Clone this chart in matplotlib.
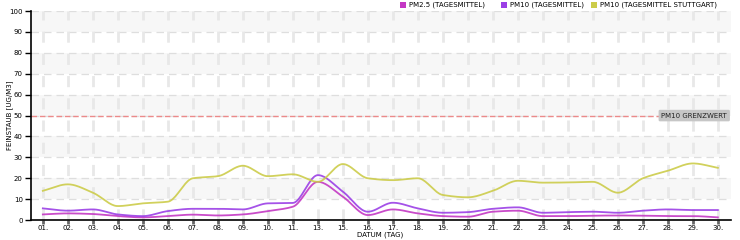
import numpy as np
import matplotlib.pyplot as plt
from matplotlib.patches import Rectangle

days = ["01.", "02.", "03.", "04.", "05.", "06.", "07.", "08.", "09.", "10.",
        "11.", "13.", "15.", "16.", "17.", "18.", "19.", "20.", "21.", "22.",
        "23.", "24.", "25.", "26.", "27.", "28.", "29.", "30."]
pm25 = [2.7, 3.2, 2.9, 1.9, 1.3, 1.9, 2.6, 2.2, 2.7, 4.3,
        6.4, 18.3, 11.2, 2.4, 5.1, 3.2, 1.9, 1.6, 4.0, 4.5,
        1.9, 1.9, 2.1, 2.2, 2.1, 1.9, 1.9, 1.3]
pm10 = [5.6, 4.5, 5.1, 2.7, 1.9, 4.3, 5.4, 5.4, 5.1, 8.0,
        8.2, 21.5, 13.6, 4.0, 8.3, 5.6, 3.5, 3.8, 5.4, 6.1,
        3.5, 3.8, 4.0, 3.5, 4.5, 5.1, 4.8, 4.8]
pm10_stuttgart = [14.0, 17.1, 13.1, 6.7, 8.0, 8.8, 20.0, 21.0, 26.0, 21.0,
                  21.9, 18.3, 26.8, 20.0, 19.1, 20.0, 12.0, 10.9, 14.0, 18.8,
                  17.9, 18.0, 18.3, 13.1, 20.0, 23.6, 27.1, 25.0]
limit = 50

series = [
    ("PM2.5 (TAGESMITTEL)", pm25, "#c438c4"),
    ("PM10 (TAGESMITTEL)", pm10, "#9b3fe6"),
    ("PM10 (TAGESMITTEL STUTTGART)", pm10_stuttgart, "#cccc4a"),
]


def monotone(x, y, n=20):
    # monotone cubic line between the points (like chart.js "monotone")
    x = np.asarray(x, float)
    y = np.asarray(y, float)
    h = np.diff(x)
    d = np.diff(y) / h
    m = np.zeros_like(y)
    m[0], m[-1] = d[0], d[-1]
    for i in range(1, len(y) - 1):
        if d[i - 1] * d[i] > 0:
            m[i] = 2 / (1 / d[i - 1] + 1 / d[i])
    xs, ys = [], []
    for i in range(len(h)):
        t = np.linspace(0, 1, n, endpoint=False)
        h00 = 2 * t**3 - 3 * t**2 + 1
        h10 = t**3 - 2 * t**2 + t
        h01 = -2 * t**3 + 3 * t**2
        h11 = t**3 - t**2
        xs.append(x[i] + t * h[i])
        ys.append(h00 * y[i] + h10 * h[i] * m[i] + h01 * y[i + 1] + h11 * h[i] * m[i + 1])
    xs.append([x[-1]])
    ys.append([y[-1]])
    return np.concatenate(xs), np.concatenate(ys)


plt.rcParams['font.family'] = ['DejaVu Sans']
fs = 5
fig = plt.figure(figsize=(7.4, 2.4), dpi=100)
ax = fig.add_axes([0.042, 0.083, 0.946, 0.871])

x = np.arange(len(days))
ax.set_xlim(-0.47, len(days) - 0.47)
ax.set_ylim(0, 100)

# striped background
for lo in range(10, 100, 20):
    ax.axhspan(lo, lo + 10, color="#f7f7f7", zorder=0, lw=0)

for yv in range(10, 101, 10):
    ax.axhline(yv, color="#dedede", lw=0.9, ls=(0, (6, 4)), zorder=1)
for xv in x:
    ax.axvline(xv, color="#e8e8e8", lw=2, ls=(0, (4, 4)), zorder=1)

ax.axhline(limit, color="#ec8a8a", lw=1, ls=(0, (4, 2)), zorder=2)
ax.text(len(days) - 0.63, limit, "PM10 GRENZWERT", fontsize=fs, ha="right", va="center",
        color="#222222", zorder=5,
        bbox=dict(boxstyle="round,pad=0.4,rounding_size=0.2", fc="#c6c6c6", ec="none"))

for label, vals, color in series:
    sx, sy = monotone(x, vals)
    ax.plot(sx, sy, color=color, lw=1.3, alpha=0.9, zorder=3)

ax.set_xticks(x)
ax.set_xticklabels(days, fontsize=fs)
ax.set_yticks(range(0, 101, 10))
ax.set_yticklabels([str(v) for v in range(0, 101, 10)], fontsize=fs)
ax.tick_params(axis="x", length=3, width=2, color="#666666", pad=0.5)
ax.tick_params(axis="y", length=4, width=1, color="black", pad=2)

for side in ("top", "right"):
    ax.spines[side].set_visible(False)
ax.spines["left"].set_linewidth(1.2)
ax.spines["bottom"].set_linewidth(1.2)

fig.text(380 / 740, 1 - 235 / 240, "DATUM (TAG)", fontsize=fs, ha="center", va="center")
fig.text(10 / 740, 1 - 115 / 240, "FEINSTAUB [UG/M3]", fontsize=fs, ha="center",
         va="center", rotation=90)

# legend across the top right
lx = [400, 501, 591]
for (label, vals, color), px in zip(series, lx):
    fig.patches.append(Rectangle((px / 740, 1 - 8 / 240), 6 / 740, 6 / 240,
                                 transform=fig.transFigure, fc=color, ec="none"))
    fig.text((px + 9) / 740, 1 - 5 / 240, label, fontsize=fs, va="center", ha="left")

fig.savefig("out.png", dpi=100)
